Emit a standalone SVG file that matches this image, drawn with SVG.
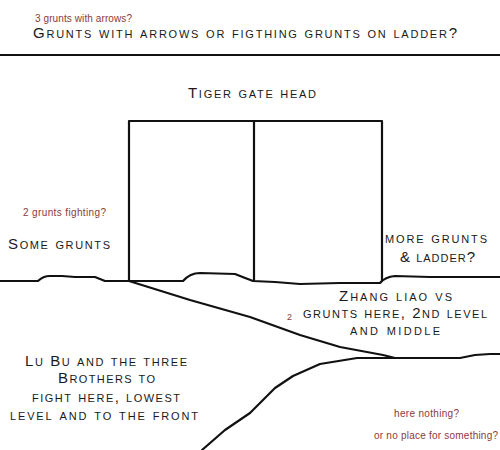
<svg xmlns="http://www.w3.org/2000/svg" width="500" height="450" viewBox="0 0 500 450">
<style>
.t{font-family:"Liberation Sans","DejaVu Sans",sans-serif;font-size:15px;font-variant:small-caps;fill:#1a1a1a}
.n{font-family:"Liberation Sans","DejaVu Sans",sans-serif;font-size:10px;fill:#8b3a3a}
.l{fill:none;stroke:#111;stroke-width:2.2;stroke-linejoin:round;stroke-linecap:round}
</style>
<rect width="500" height="450" fill="#fff"/>
<g id="wall">
<line class="l" x1="0" y1="55" x2="500" y2="55"/>
</g>
<g id="gate">
<path class="l" d="M129,281 V121 H382 V281 M254,121 V281"/>
</g>
<g id="ground">
<path class="l" d="M0,281 L38,281 Q43,276 50,276 L62,276 L75,277 L95,277 L100,279 L105,281 L129,281 L183,281 Q190,273 200,273 L235,274 Q245,278 253,281 L275,282 L300,284 L340,283 L380,283 Q385,277 395,276 L430,277 L470,277 L500,277"/>
<path class="l" d="M129,281 L190,300 L250,317 L300,335 L340,347 L383,355 L395,358"/>
<path class="l" d="M202,450 L225,430 L250,413 L275,388 L293,376 L320,364 L357,358 L460,358 L475,355 L490,354 L500,354"/>
</g>
<g id="labels">
<text class="n" x="35" y="21.5" textLength="97" lengthAdjust="spacing">3 grunts with arrows?</text>
<text class="t" x="33" y="37.5" textLength="424" lengthAdjust="spacing">Grunts with arrows or figthing grunts on ladder?</text>
<text class="t" x="188" y="98" textLength="128" lengthAdjust="spacing">Tiger gate head</text>
<text class="n" x="23" y="216" textLength="83" lengthAdjust="spacing">2 grunts fighting?</text>
<text class="t" x="8" y="249" textLength="102" lengthAdjust="spacing">Some grunts</text>
<text class="t" x="385" y="243" textLength="102" lengthAdjust="spacing">more grunts</text>
<text class="t" x="400" y="262" textLength="75" lengthAdjust="spacing">&amp; ladder?</text>
<text class="t" x="339" y="301" textLength="113" lengthAdjust="spacing">Zhang liao vs</text>
<text class="n" x="287" y="320" style="font-size:9px">2</text>
<text class="t" x="303" y="318" textLength="184" lengthAdjust="spacing">grunts here, 2nd level</text>
<text class="t" x="350" y="335" textLength="90" lengthAdjust="spacing">and middle</text>
<text class="t" x="25" y="366" textLength="162" lengthAdjust="spacing">Lu Bu and the three</text>
<text class="t" x="58" y="383" textLength="97" lengthAdjust="spacing">Brothers to</text>
<text class="t" x="32" y="402" textLength="148" lengthAdjust="spacing">fight here, lowest</text>
<text class="t" x="10" y="420" textLength="188" lengthAdjust="spacing">level and to the front</text>
<text class="n" x="394" y="417" textLength="65" lengthAdjust="spacing">here nothing?</text>
<text class="n" x="374" y="439" textLength="124" lengthAdjust="spacing">or no place for something?</text>
</g>
</svg>
